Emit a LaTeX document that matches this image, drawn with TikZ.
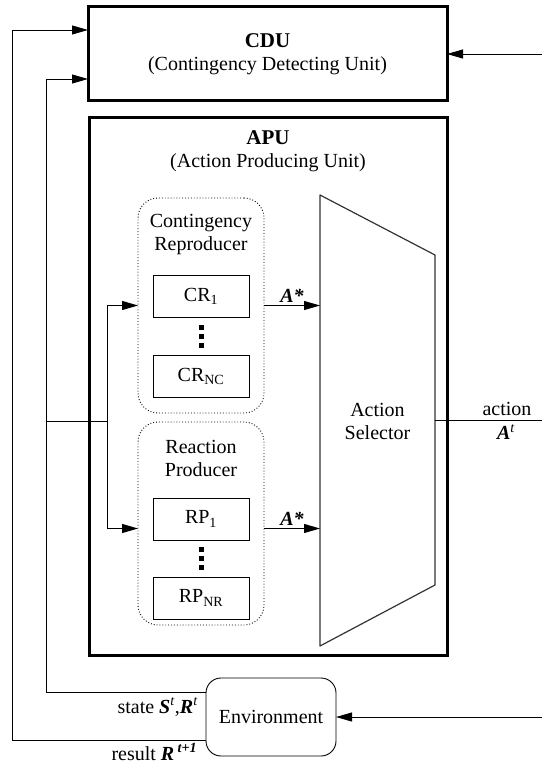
\documentclass[tikz,border=0pt]{standalone}
\usepackage{fontspec}
\setmainfont{Liberation Serif}
\usetikzlibrary{arrows.meta,calc}

\newcommand{\bi}[1]{\textbf{\textit{#1}}}

\begin{document}
\begin{tikzpicture}[x=1pt,y=-1pt,
  font=\fontsize{20}{23}\selectfont,
  every node/.style={inner sep=0pt,outer sep=0pt},
  unit/.style={draw,line width=3pt,align=center},
  group/.style={draw,dotted,line width=0.9pt,rounded corners=20pt,
    minimum width=126pt},
  item/.style={draw,line width=0.9pt,minimum width=96pt,minimum height=42pt},
  envbox/.style={draw,line width=0.9pt,rounded corners=15pt,
    minimum width=130pt,minimum height=78pt},
  conn/.style={line width=0.9pt},
  arr/.style={conn,-{Triangle[length=16pt,width=9pt]}},
  dotsq/.style={fill=black}
]
\useasboundingbox (0,0) rectangle (542,767);

% Top-level units
\node[unit,minimum width=359pt,minimum height=94pt] (cdu) at (267.5,54)
  {\fontsize{21}{23}\selectfont\textbf{CDU}\\(Contingency Detecting Unit)};
\node[unit,minimum width=358pt,minimum height=537pt] (apu) at (268,386.5) {};
\node[align=center] (aputitle) at (268,151)
  {\fontsize{21}{23}\selectfont\textbf{APU}\\(Action Producing Unit)};

% Producer groups
\node[group,minimum height=215pt] (crg) at (201,305.5) {};
\node[group,minimum height=203pt] (rpg) at (201,523.5) {};
\node[align=center] (crgt) at (201,235) {Contingency\\Reproducer};
\node[align=center] (rpgt) at (201,458) {Reaction\\Producer};

\node[item] (cr1)  at (201,296) {CR\textsubscript{1}};
\node[item] (crnc) at (201,376) {CR\textsubscript{NC}};
\node[item] (rp1)  at (201,519) {RP\textsubscript{1}};
\node[item] (rpnr) at (201,598) {RP\textsubscript{NR}};

% vertical ellipsis squares
\foreach \a/\b in {cr1/crnc,rp1/rpnr}{
  \foreach \d in {-9,0,9}{
    \fill[dotsq] ($($(\a.south)!0.5!(\b.north)$)+(-2.5,\d-2.5)$) rectangle ++(5,5);
  }
}

% Action selector (trapezoid)
\node[minimum width=115pt,minimum height=451pt] (sel) at (377.5,420.5) {};
\draw[line width=1.2pt,black!80,line join=round]
  (sel.north west) -- ($(sel.north east)+(0,60)$)
  -- ($(sel.south east)+(0,-61)$) -- (sel.south west) -- cycle;
\node[align=center] (selt) at (377.5,421) {Action\\Selector};

% Environment
\node[envbox] (env) at (271,717) {Environment};

% Connector corner points
\coordinate (innerTop) at (46,79);
\coordinate (outerTop) at (12,30);
\coordinate (tap) at (46,421);
\coordinate (br) at (107,421);
\coordinate (cduIn) at (542,54);
\coordinate (envIn) at (542,717);
\coordinate (actOut) at (542,420.5);

% Feedback loops from the environment to the CDU
\draw[arr] ([yshift=25pt]env.west) -| (innerTop) -- (innerTop -| cdu.west);
\draw[arr] ([yshift=-23pt]env.west) -| (outerTop) -- (outerTop -| cdu.west);

% State branch into the producer groups
\draw[conn] (tap) -- (br);
\draw[arr] (br) |- (crg.west);
\draw[arr] (br) |- ([yshift=-5pt]rpg.west);

% Candidate actions into the selector
\draw[arr] (crg.east) -- (crg.east -| sel.west)
  node[midway,above=3pt] {\bi{A*}};
\draw[arr] ([yshift=-5pt]rpg.east) -- ([yshift=-5pt]rpg.east -| sel.west)
  node[midway,above=3pt] {\bi{A*}};

% Output action
\draw[conn] (sel.east) -- (actOut);
\node (actlbl) at (507,409) {action};
\node (atlbl) at (506,432) {\bi{A}\textsuperscript{\textit{t}}};

% Inputs from the right
\draw[arr] (cduIn) -- (cdu.east);
\draw[arr] (envIn) -- (env.east);

% Loop labels
\node[anchor=east] (statelbl) at (198,707)
  {state \bi{S}\textsuperscript{\textit{t}},\bi{R}\textsuperscript{\textit{t}}};
\node[anchor=east] (resultlbl) at (197,752)
  {result \bi{R}\,\textsuperscript{\textbf{\textit{t+1}}}};
\end{tikzpicture}
\end{document}
